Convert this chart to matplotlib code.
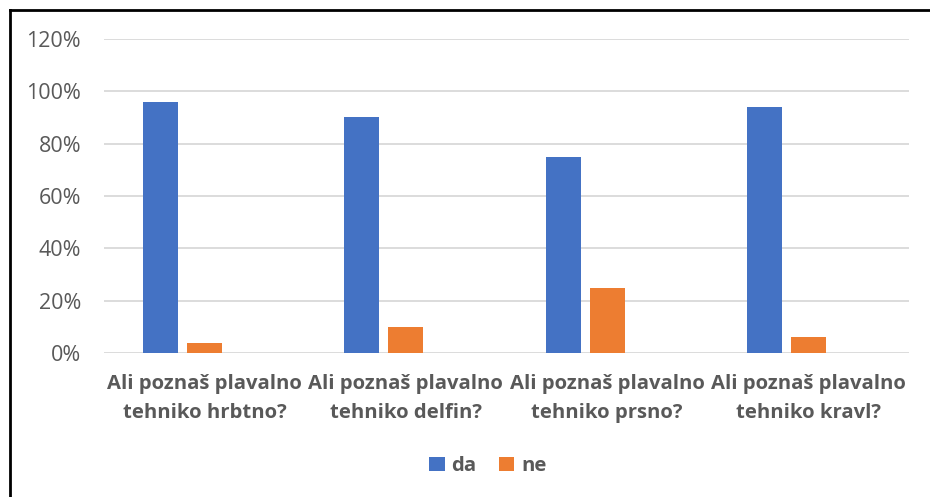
import matplotlib
matplotlib.use("Agg")
import matplotlib.pyplot as plt
import numpy as np
from matplotlib.lines import Line2D
from matplotlib.ticker import FuncFormatter

categories = ["Ali poznaš plavalno\ntehniko hrbtno?", "Ali poznaš plavalno\ntehniko delfin?",
              "Ali poznaš plavalno\ntehniko prsno?", "Ali poznaš plavalno\ntehniko kravl?"]
da = [0.96, 0.90, 0.75, 0.94]
ne = [0.04, 0.10, 0.25, 0.06]
yticks = [0, 0.2, 0.4, 0.6, 0.8, 1.0, 1.2]

plt.rcParams['font.family'] = ['Open Sans', 'DejaVu Sans']
fig = plt.figure(figsize=(9.3, 4.97), dpi=100)
W, H = 930, 497
ax = fig.add_axes([104 / W, 1 - 353 / H, (909 - 104) / W, (353 - 39) / H])

x = np.arange(len(categories))
bw = 0.174
off = 0.219
ax.bar(x - off, da, bw, color="#4472C4", label="da", zorder=3)
ax.bar(x, ne, bw, color="#ED7D31", label="ne", zorder=3)

ax.set_xlim(-0.5, len(categories) - 0.5)
ax.set_ylim(0, 1.2)
ax.set_yticks(yticks)
ax.yaxis.set_major_formatter(FuncFormatter(lambda v, p: f"{v*100:.0f}%"))
ax.grid(axis="y", color="#D9D9D9", linewidth=1.3, zorder=0)
for s in ax.spines.values():
    s.set_visible(False)
ax.tick_params(axis="y", length=0, pad=16.5, labelsize=15.5, labelcolor="#595959")
ax.set_xticks(x)
ax.set_xticklabels(categories, fontsize=14.6, fontweight="bold", color="#595959", linespacing=1.6)
ax.tick_params(axis="x", length=0, pad=15)

leg = fig.legend(loc="center", bbox_to_anchor=(488 / W, 1 - 466 / H), ncol=2, frameon=False,
                 handlelength=0.75, handleheight=0.75, handletextpad=0.35, columnspacing=1.1,
                 prop={"size": 14.6, "weight": "bold"})
for t in leg.get_texts():
    t.set_color("#595959")

fig.add_artist(Line2D([10 / W, 10 / W], [0, 1 - 10 / H], color="black", linewidth=2, transform=fig.transFigure))
fig.add_artist(Line2D([10 / W, 1], [1 - 10 / H, 1 - 10 / H], color="black", linewidth=2, transform=fig.transFigure))

fig.savefig("out.png", dpi=100)
